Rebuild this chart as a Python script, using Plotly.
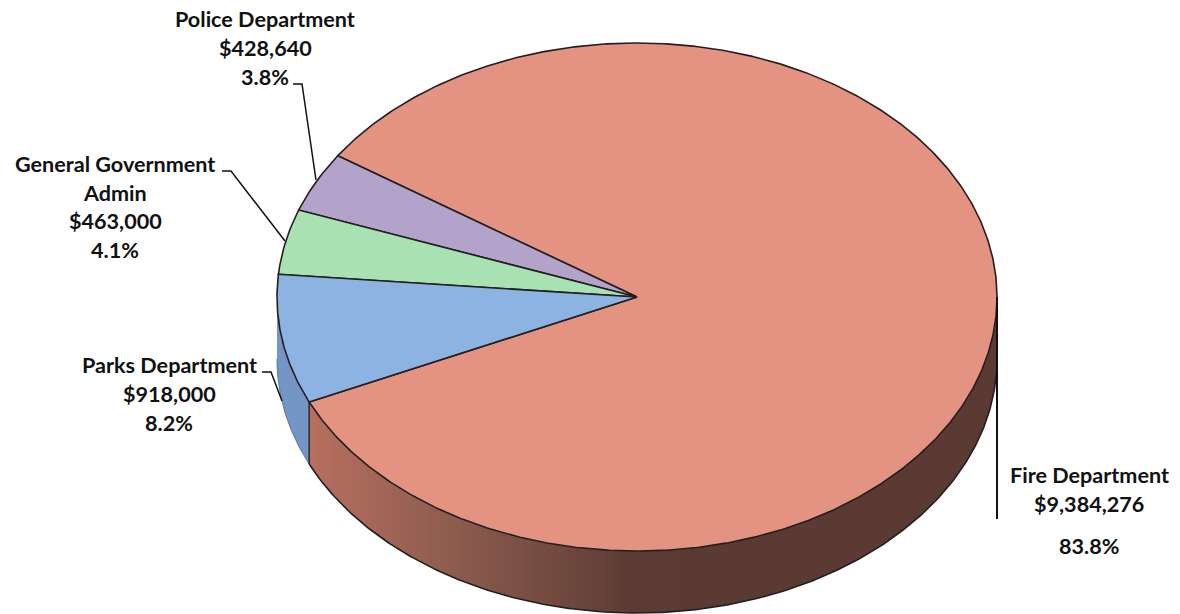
import numpy as np
import plotly.graph_objects as go

departments = ["Fire Department", "Police Department", "General Government Admin", "Parks Department"]
amounts = [9384276, 428640, 463000, 918000]
amount_labels = ["$9,384,276", "$428,640", "$463,000", "$918,000"]
percent_labels = ["83.8%", "3.8%", "4.1%", "8.2%"]
top_colors = ["#E49383", "#B3A2CA", "#A9E2B2", "#8DB3E2"]

CX, CY, RX, RY, DEPTH = 637.0, 297.0, 360.0, 254.0, 62.0
END_DEG = 204.4   # angle where the Fire slice meets the Parks slice
EDGE = "#231f20"


def arc(a0, a1, dy=0.0, n=None):
    n = n or max(8, int(abs(a1 - a0) * 2))
    t = np.radians(np.linspace(a0, a1, n))
    return CX + RX * np.cos(t), CY + RY * np.sin(-t) + dy


def hexmix(stops, f):
    xs = [s[0] for s in stops]
    rgb = [np.interp(f, xs, [int(s[1][i:i + 2], 16) for s in stops]) for i in (1, 3, 5)]
    return "rgb(%d,%d,%d)" % tuple(rgb)


def wall(a0, a1, color):
    ax, ay = arc(a0, a1)
    bx, by = arc(a1, a0, dy=DEPTH)
    fig.add_trace(go.Scatter(x=np.r_[ax, bx], y=np.r_[ay, by], mode="lines", fill="toself",
                             fillcolor=color, line=dict(width=0), hoverinfo="skip", showlegend=False))


total = sum(amounts)
sweeps = [v / total * 360 for v in amounts]

fig = go.Figure()

# --- side wall: Fire slice, gradient on the left part, flat dark on the right
wall_stops = [(0.0, "#B8705F"), (0.20, "#8F5D50"), (0.40, "#6A453C"), (0.47, "#5C3B34")]
x_left = CX + RX * np.cos(np.radians(END_DEG))
x_right = CX + RX
flat_deg = 276.0
wall(flat_deg - 0.3, 360.0, "#5A3A33")
edges = np.linspace(END_DEG, flat_deg, 60)
for a0, a1 in zip(edges[:-1], edges[1:]):
    mid_x = CX + RX * np.cos(np.radians((a0 + a1) / 2))
    wall(a0, a1 + 0.3, hexmix(wall_stops, (mid_x - x_left) / (x_right - x_left)))

# --- side wall: Parks slice
wall(180, END_DEG, "#7496C4")
bx, by = arc(180, END_DEG, dy=DEPTH)
fig.add_trace(go.Scatter(x=bx, y=by, mode="lines", line=dict(color="#5F80AC", width=1.2),
                         hoverinfo="skip", showlegend=False))

# wall outlines
bx, by = arc(END_DEG, 360, dy=DEPTH, n=300)
fig.add_trace(go.Scatter(x=bx, y=by, mode="lines", line=dict(color=EDGE, width=1.6),
                         hoverinfo="skip", showlegend=False))
ex, ey = arc(END_DEG, END_DEG, n=2)
fig.add_trace(go.Scatter(x=[ex[0], ex[0]], y=[ey[0], ey[0] + DEPTH], mode="lines",
                         line=dict(color=EDGE, width=1.4), hoverinfo="skip", showlegend=False))

# --- top face: Fire runs clockwise the long way, the others stack up to END_DEG
top_angle = END_DEG - sum(sweeps[1:])
ax, ay = arc(top_angle, END_DEG - 360, n=700)
fig.add_trace(go.Scatter(x=np.r_[CX, ax, CX], y=np.r_[CY, ay, CY], mode="lines", fill="toself",
                         fillcolor=top_colors[0], line=dict(color=EDGE, width=1.6),
                         hoverinfo="text", text=departments[0], showlegend=False))
a = top_angle
for name, sw, col in zip(departments[1:], sweeps[1:], top_colors[1:]):
    ax, ay = arc(a, a + sw)
    fig.add_trace(go.Scatter(x=np.r_[CX, ax, CX], y=np.r_[CY, ay, CY], mode="lines", fill="toself",
                             fillcolor=col, line=dict(color=EDGE, width=1.6),
                             hoverinfo="text", text=name, showlegend=False))
    a += sw

# --- leader lines
leaders = [
    [(293, 84), (302, 84), (316, 180)],
    [(222, 171), (231, 171), (285, 241)],
    [(262, 372), (271, 372), (282, 401)],
    [(997, 297), (997, 519)],
]
for pts in leaders:
    fig.add_trace(go.Scatter(x=[p[0] for p in pts], y=[p[1] for p in pts], mode="lines",
                             line=dict(color="#111111", width=1.5 if len(pts) == 3 else 2),
                             hoverinfo="skip", showlegend=False))

# --- labels
font = dict(family="Lato, Carlito, Calibri, sans-serif", size=21.6, color="#111111")
label_blocks = [
    (1089, [475, 504, 546], [departments[0], amount_labels[0], percent_labels[0]]),
    (265, [19, 48, 77], [departments[1], amount_labels[1], percent_labels[1]]),
    (115, [164, 193, 221, 250], ["General Government", "Admin", amount_labels[2], percent_labels[2]]),
    (169, [365, 394, 423], [departments[3], amount_labels[3], percent_labels[3]]),
]
for x, ys, lines in label_blocks:
    for y, line in zip(ys, lines):
        fig.add_annotation(x=x, y=y, text="<b>%s</b>" % line, showarrow=False, font=font,
                           xanchor="center", yanchor="middle")

fig.update_layout(
    width=1180, height=614, margin=dict(l=0, r=0, t=0, b=0),
    paper_bgcolor="white", plot_bgcolor="white", showlegend=False,
    xaxis=dict(range=[0, 1180], visible=False, fixedrange=True),
    yaxis=dict(range=[614, 0], visible=False, fixedrange=True),
)
fig.write_html("out.html", post_script="document.body.style.margin='0';", config={"displayModeBar": False})
